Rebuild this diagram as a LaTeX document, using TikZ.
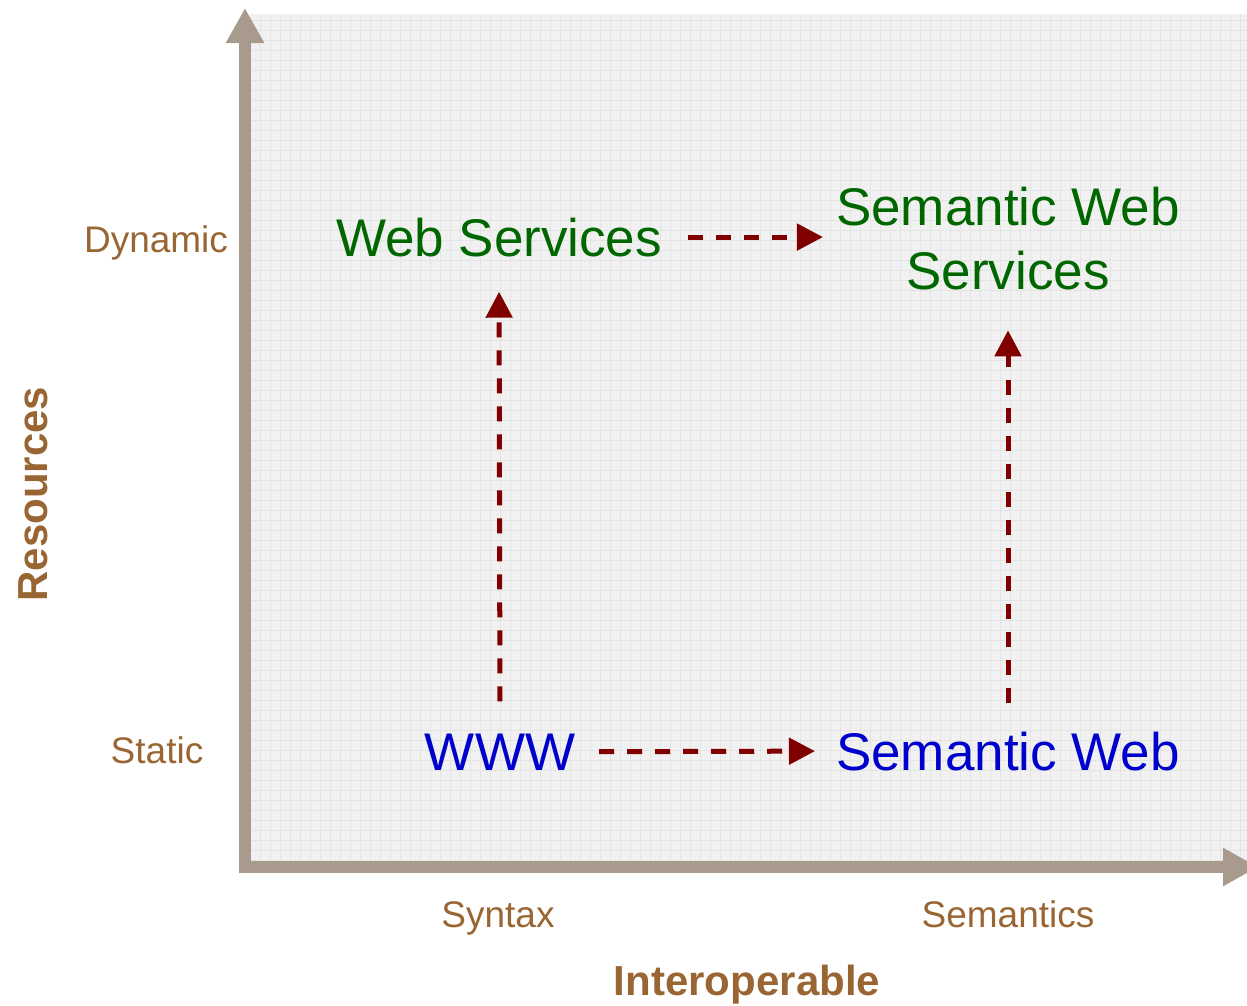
\documentclass[tikz,border=0pt]{standalone}
\usepackage{fontspec}
\setmainfont{Liberation Sans}
\usetikzlibrary{arrows.meta}
\definecolor{axisgray}{RGB}{168,155,141}
\definecolor{labelbrown}{RGB}{153,102,51}
\definecolor{techgreen}{RGB}{0,102,0}
\definecolor{techblue}{RGB}{0,0,204}
\definecolor{flowred}{RGB}{128,0,0}
\definecolor{paper}{RGB}{241,241,241}
\definecolor{paperline}{RGB}{228,228,228}
\tikzset{
  axisline/.style={draw=axisgray, line width=12pt, -{Triangle[length=35pt,width=36pt]}},
  flow/.style={draw=flowred, line width=5pt, dash pattern=on 15pt off 13pt,
    -{Triangle[length=26pt,width=26pt]}},
  tech/.style={font=\fontsize{53}{64}\selectfont, inner sep=0pt},
  lbl/.style={font=\fontsize{37}{44}\selectfont, text=labelbrown, inner sep=0pt, anchor=base},
  axtitle/.style={font=\bfseries\fontsize{42}{50}\selectfont, text=labelbrown, inner sep=0pt, anchor=base}
}
\begin{document}
\begin{tikzpicture}[x=1pt,y=-1pt]
\clip (0,0) rectangle (1247,1005);

% graph paper
\fill[paper] (250,14) rectangle (1247,862);
\draw[paperline, line width=1pt, xstep=10pt, ystep=10pt] (250,14) grid (1247,862);

% axes
\draw[axisline] (245,873) -- (245,8);
\draw[axisline] (239,867) -- (1258,867);

% axis ticks and titles
\node[lbl] (dyn) at (156,252) {Dynamic};
\node[lbl] (sta) at (157,763) {Static};
\node[lbl] (syn) at (498,927) {Syntax};
\node[lbl] (sem) at (1008,927) {Semantics};
\node[axtitle] (inter) at (747,995) {Interoperable};
\node[axtitle, rotate=90] (res) at (47,494) {Resources};

% technologies
\node[tech, text=techblue, anchor=base] (www) at (500,770) {WWW};
\node[tech, text=techblue, anchor=base] (semweb) at (1008,770) {Semantic Web};
\node[tech, text=techgreen, anchor=base] (ws) at (499,256) {Web Services};
\node[tech, text=techgreen, anchor=north, align=center] (sws) at (1008,187)
  {Semantic Web\\Services};

% evolution paths
\draw[flow, shorten <=26pt, shorten >=13pt] (ws.east) -- (ws.east -| sws.west);
\draw[flow, shorten <=24pt, shorten >=21pt] (www.east) -- (semweb.west);
\draw[flow, shorten <=32pt, shorten >=35pt] (www.north) -- (ws.south);
\draw[flow, shorten <=28pt, shorten >=40pt] (semweb.north) -- (semweb.north |- sws.south);
\end{tikzpicture}
\end{document}
